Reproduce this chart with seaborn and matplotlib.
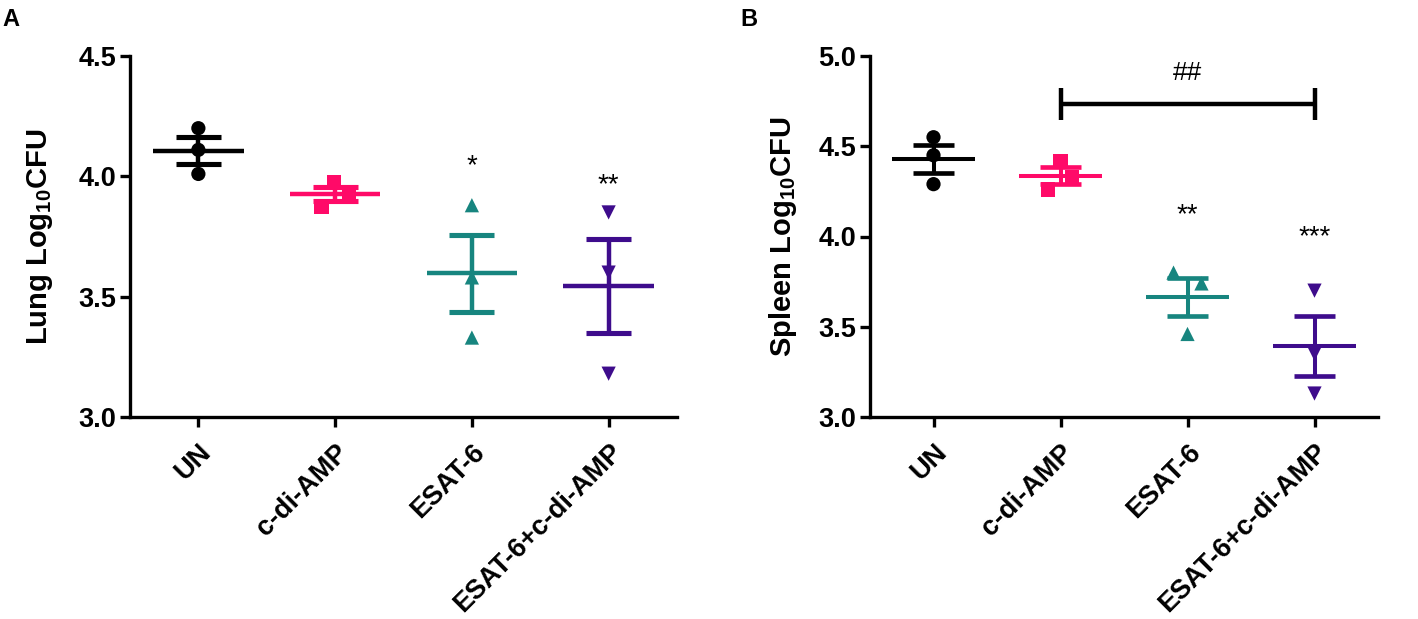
"""
Lung and spleen bacterial burden (Log10 CFU) per treatment group,
scatter of replicates with mean ± SEM.
"""

import matplotlib
matplotlib.use("Agg")
import matplotlib.pyplot as plt
import numpy as np
import pandas as pd
import seaborn as sns

GROUPS = ["UN", "c-di-AMP", "ESAT-6", "ESAT-6+c-di-AMP"]
COLORS = ["#000000", "#FF0A68", "#17857F", "#3E0C8C"]
MARKERS = ["o", "s", "^", "v"]

# replicate values
LUNG_UN = [4.20, 4.11, 4.01]
LUNG_CDA = [3.975, 3.925, 3.875]
LUNG_ESAT = [3.88, 3.58, 3.33]
LUNG_COMBO = [3.85, 3.60, 3.18]

SPLEEN_UN = [4.55, 4.45, 4.29]
SPLEEN_CDA = [4.42, 4.33, 4.26]
SPLEEN_ESAT = [3.80, 3.74, 3.46]
SPLEEN_COMBO = [3.70, 3.35, 3.13]

# horizontal spread of overlapping points (category units)
LUNG_SPREAD = [[0, 0, 0], [-0.01, 0.1, -0.1], [0, 0, 0], [0, 0, 0]]
SPLEEN_SPREAD = [[0, 0, 0], [0, 0.09, -0.1], [-0.11, 0.11, 0], [0, 0, 0]]

LUNG_STARS = ["", "", "*", "**"]
SPLEEN_STARS = ["", "", "**", "***"]
LUNG_STAR_Y = [None, None, 4.012, 3.935]
SPLEEN_STAR_Y = [None, None, 4.08, 3.955]

BRACKET_GROUPS = (1, 3)
BRACKET_Y = 4.733
BRACKET_LABEL = "##"

TICK_FS = 19.5


def build_frame(values, spread):
    rows = []
    for i, (vals, offs) in enumerate(zip(values, spread)):
        for v, o in zip(vals, offs):
            rows.append({"group": GROUPS[i], "pos": i + o, "value": v})
    return pd.DataFrame(rows)


def draw_panel(ax, values, spread, ylim, yticks, ylabel, stars, star_y, lw):
    df = build_frame(values, spread)
    sns.scatterplot(
        data=df, x="pos", y="value", hue="group", style="group",
        palette=dict(zip(GROUPS, COLORS)), markers=dict(zip(GROUPS, MARKERS)),
        s=105, linewidth=0, legend=False, ax=ax, zorder=2,
    )
    stats = df.groupby("group", sort=False)["value"].agg(["mean", "sem"])
    for i, g in enumerate(GROUPS):
        m, e = stats.loc[g, "mean"], stats.loc[g, "sem"]
        c = COLORS[i]
        ax.hlines(m, i - 0.33, i + 0.33, color=c, lw=lw, zorder=3)
        ax.vlines(i, m - e, m + e, color=c, lw=lw, zorder=3)
        ax.hlines([m - e, m + e], i - 0.165, i + 0.165, color=c, lw=lw * 1.15, zorder=3)
        if stars[i]:
            ax.text(i, star_y[i], stars[i], ha="center", va="baseline",
                    fontsize=20, color="black")

    ax.set_xlim(-0.5, 3.5)
    ax.set_ylim(*ylim)
    ax.set_yticks(yticks)
    ax.set_yticklabels([f"{t:.1f}" for t in yticks], fontweight="bold", fontsize=TICK_FS)
    ax.set_xticks(range(len(GROUPS)))
    ax.set_xticklabels(GROUPS, rotation=45, ha="right", va="top",
                       rotation_mode="anchor", fontweight="bold", fontsize=TICK_FS)
    ax.set_xlabel("")
    ax.set_ylabel(ylabel, fontsize=21, fontweight="bold", color="black")
    ax.tick_params(axis="both", width=2.4, length=7, color="black", labelcolor="black")
    ax.tick_params(axis="x", pad=9)
    ax.tick_params(axis="y", pad=3)
    for side in ["left", "bottom"]:
        ax.spines[side].set_linewidth(2.4)
        ax.spines[side].set_color("black")
    sns.despine(ax=ax)


def main():
    sns.set_theme(style="ticks")
    plt.rcParams["font.family"] = ["Liberation Sans", "DejaVu Sans"]
    plt.rcParams["text.color"] = "black"
    plt.rcParams["mathtext.fontset"] = "custom"
    plt.rcParams["mathtext.rm"] = "Liberation Sans"
    plt.rcParams["mathtext.bf"] = "Liberation Sans:bold"

    W, H = 1418, 619
    fig = plt.figure(figsize=(W / 100, H / 100), dpi=100)
    ax_a = fig.add_axes([130 / W, 1 - 417 / H, 547 / W, 361 / H])
    ax_b = fig.add_axes([870 / W, 1 - 417 / H, 508 / W, 361 / H])

    draw_panel(ax_a, [LUNG_UN, LUNG_CDA, LUNG_ESAT, LUNG_COMBO], LUNG_SPREAD,
               (3.0, 4.5), [3.0, 3.5, 4.0, 4.5], r"Lung Log$_{\mathbf{10}}$CFU",
               LUNG_STARS, LUNG_STAR_Y, 3.2)
    draw_panel(ax_b, [SPLEEN_UN, SPLEEN_CDA, SPLEEN_ESAT, SPLEEN_COMBO], SPLEEN_SPREAD,
               (3.0, 5.0), [3.0, 3.5, 4.0, 4.5, 5.0], r"Spleen Log$_{\mathbf{10}}$CFU",
               SPLEEN_STARS, SPLEEN_STAR_Y, 2.9)
    ax_a.yaxis.set_label_coords(-0.137, 0.5)
    ax_b.yaxis.set_label_coords(-0.140, 0.5)

    # comparison bracket in panel B
    x0, x1 = BRACKET_GROUPS
    ax_b.hlines(BRACKET_Y, x0, x1, color="black", lw=3.2, clip_on=False)
    ax_b.vlines([x0, x1], BRACKET_Y - 0.09, BRACKET_Y + 0.09, color="black",
                lw=3.2, clip_on=False)
    ax_b.text((x0 + x1) / 2, 4.865, BRACKET_LABEL, ha="center", va="baseline",
              fontsize=19, color="black")

    fig.text(2 / W, 1 - 8 / H, "A", fontsize=17, fontweight="bold", va="top", ha="left")
    fig.text(740 / W, 1 - 8 / H, "B", fontsize=17, fontweight="bold", va="top", ha="left")

    fig.savefig("out.png", dpi=100)
    plt.close(fig)


if __name__ == "__main__":
    main()
